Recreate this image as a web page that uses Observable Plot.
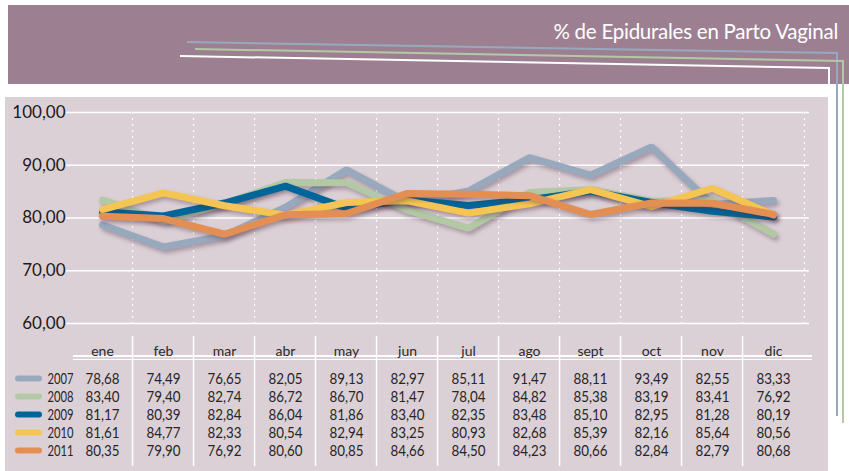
<!DOCTYPE html>
<html>
<head>
<meta charset="utf-8">
<script src="https://cdn.jsdelivr.net/npm/d3@7"></script>
<script src="https://cdn.jsdelivr.net/npm/@observablehq/plot@0.6"></script>
<style>
  html, body { margin: 0; padding: 0; background: #ffffff; }
  #root { position: relative; width: 849px; height: 471px; overflow: hidden; font-family: Lato, "Open Sans", sans-serif; }
  #header { position: absolute; left: 8px; top: 5px; width: 841px; height: 79px; background: #9c8092; }
  #title { position: absolute; right: 11px; top: 19px; color: #ffffff; font-size: 20.5px; font-family: Lato, sans-serif; font-weight: 400; letter-spacing: -0.25px; }
  #panel { position: absolute; left: 5px; top: 97px; width: 824px; height: 374px; background: #dcd0d7; }
  #deco { position: absolute; left: 0; top: 0; }
  #chart, #table { position: absolute; left: 0; }
  #chart { top: 96px; }
  #table { top: 336px; }
  .uline { position: absolute; left: 73px; width: 739px; background: #ffffff; }
  #chart g[aria-label="line"] path { filter: drop-shadow(2px 3px 2px rgba(70, 40, 60, 0.35)); }
</style>
</head>
<body>
<div id="root">
  <div id="header"></div>
  <div id="title">% de Epidurales en Parto Vaginal</div>
  <div id="panel"></div>
  <svg id="deco" width="849" height="471">
    <polyline points="187,42 837,53 837,416" fill="none" stroke="#98a9be" stroke-width="2"/>
    <polyline points="195,49 843,61 843,423" fill="none" stroke="#b3c8a5" stroke-width="2"/>
    <polyline points="180,56 829,68 829,471" fill="none" stroke="#ffffff" stroke-width="2"/>
  </svg>
  <div class="uline" style="top:355px;height:2px"></div>
  <div class="uline" style="top:359px;height:1px"></div>
  <div id="chart"></div>
  <div id="table"></div>
</div>
<script>
const months = ["ene","feb","mar","abr","may","jun","jul","ago","sept","oct","nov","dic"];
const years = ["2007","2008","2009","2010","2011"];
const v2007 = [78.68,74.49,76.65,82.05,89.13,82.97,85.11,91.47,88.11,93.49,82.55,83.33];
const v2008 = [83.40,79.40,82.74,86.72,86.70,81.47,78.04,84.82,85.38,83.19,83.41,76.92];
const v2009 = [81.17,80.39,82.84,86.04,81.86,83.40,82.35,83.48,85.10,82.95,81.28,80.19];
const v2010 = [81.61,84.77,82.33,80.54,82.94,83.25,80.93,82.68,85.39,82.16,85.64,80.56];
const v2011 = [80.35,79.90,76.92,80.60,80.85,84.66,84.50,84.23,80.66,82.84,82.79,80.68];
const yTicks = [60, 70, 80, 90, 100];
const colors = ["#98a9be", "#b3c8a5", "#006699", "#f5c553", "#e38e52"];

const series = [v2007, v2008, v2009, v2010, v2011];
const rows = [];
years.forEach((y, j) => months.forEach((m, i) => rows.push({year: y, month: m, value: series[j][i]})));

const es = d3.formatLocale({decimal: ",", thousands: ".", grouping: [3], currency: ["", "€"]});
const fmt = es.format(".2f");

const W = 849, ML = 66, MR = 40;
const step = (W - ML - MR) / months.length;
const xOpts = {type: "point", domain: months, padding: 0.5, align: 0.5, axis: null};
const colorOpts = {domain: years, range: colors};
const tableFont = "Lato, sans-serif";

const chart = Plot.plot({
  width: W, height: 240,
  marginLeft: ML, marginRight: MR, marginTop: 16, marginBottom: 13,
  style: {background: "transparent", overflow: "visible"},
  x: xOpts,
  y: {domain: [60, 100], axis: null},
  color: colorOpts,
  marks: [
    Plot.ruleY(yTicks, {stroke: "#ffffff", strokeWidth: 1.6}),
    Plot.ruleX(months.slice(1), {x: d => d, dx: -step / 2, stroke: "#ffffff", strokeWidth: 1.2, strokeDasharray: "2,4"}),
    Plot.ruleX([months[months.length - 1]], {x: d => d, dx: step / 2, stroke: "#ffffff", strokeWidth: 1.2, strokeDasharray: "2,4"}),
    Plot.axisY({ticks: yTicks, tickFormat: fmt, tickSize: 0, tickPadding: 1, fontSize: 17, fill: "#1a1a1a", fontFamily: "Lato, sans-serif", label: null}),
    Plot.line(rows, {x: "month", y: "value", z: "year", stroke: "year", strokeWidth: 7, strokeLinejoin: "miter", strokeLinecap: "round"})
  ]
});
document.getElementById("chart").appendChild(chart);

const swatch = {draw(context, size) { context.moveTo(-10.5, 0); context.lineTo(10.5, 0); }};

const table = Plot.plot({
  width: W, height: 130,
  marginLeft: ML, marginRight: MR, marginTop: 0, marginBottom: 0,
  style: {background: "transparent", overflow: "visible"},
  x: xOpts,
  y: {type: "point", domain: years, range: [41, 114], padding: 0, axis: null},
  color: colorOpts,
  marks: [
    Plot.ruleX(months.slice(1), {x: d => d, dx: -step / 2, stroke: "#ffffff", strokeWidth: 1.5}),
    Plot.text(months, {x: d => d, frameAnchor: "top", dy: 10, text: d => d, fontSize: 14, fill: "#2a2a2a", fontFamily: tableFont}),
    Plot.text(rows, {x: "month", y: "year", text: d => fmt(d.value), fontSize: 16, fill: "#262626", fontFamily: tableFont, className: "vals"}),
    Plot.text(years, {y: d => d, frameAnchor: "left", dx: 7, textAnchor: "end", text: d => d, fontSize: 16, fill: "#262626", fontFamily: tableFont, className: "yrs"}),
    Plot.dot(years, {y: d => d, frameAnchor: "left", dx: -38, symbol: swatch, stroke: d => d, fill: "none", strokeWidth: 6, strokeLinecap: "round"})
  ]
});
// condense table digits to mimic the narrow typeface of the original
table.querySelectorAll(".vals text").forEach(t => { t.setAttribute("textLength", 34); t.setAttribute("lengthAdjust", "spacingAndGlyphs"); });
table.querySelectorAll(".yrs text").forEach(t => { t.setAttribute("textLength", 26); t.setAttribute("lengthAdjust", "spacingAndGlyphs"); });
document.getElementById("table").appendChild(table);
</script>
</body>
</html>
